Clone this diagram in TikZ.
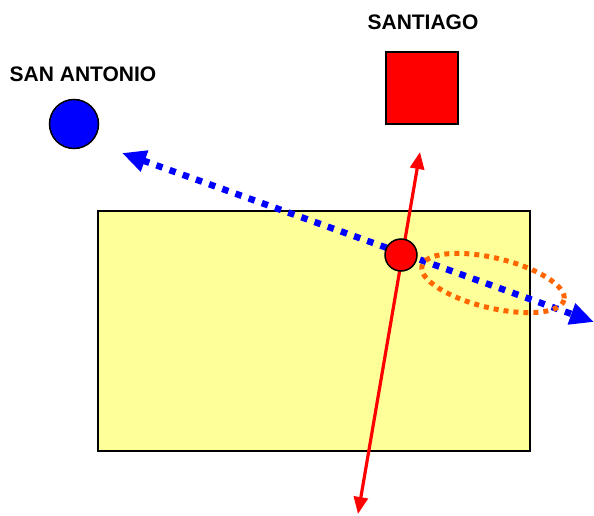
\documentclass[tikz,border=0pt]{standalone}
\usepackage{fontspec}
\setmainfont{Liberation Sans}
\usetikzlibrary{arrows.meta}
\definecolor{zoneyellow}{RGB}{255,255,153}
\definecolor{ringorange}{RGB}{255,102,0}
\begin{document}
\begin{tikzpicture}[x=1pt,y=-1pt,
  label/.style={font=\bfseries\fontsize{21}{25}\selectfont,inner sep=0pt},
  route/.style={blue,line width=6.5pt,dash pattern=on 6.5pt off 7.5pt,
    {Triangle[length=24pt,width=21pt]}-{Triangle[length=24pt,width=21pt]}},
  axis/.style={red,line width=3.2pt,
    {Triangle[length=17pt,width=14pt]}-{Triangle[length=17pt,width=14pt]}}]
\useasboundingbox (0,0) rectangle (594,516);
\node[label] (santiago) at (423,22) {SANTIAGO};
\node[draw,line width=1.5pt,fill=red,minimum size=72pt,inner sep=0pt] (stgo) at (422,88) {};
\node[label] (sanantonio) at (83,74) {SAN ANTONIO};
\node[draw,circle,line width=1.5pt,fill=blue,minimum size=49pt,inner sep=0pt] (port) at (74,124) {};
\draw[line width=1.5pt,fill=zoneyellow] (98,211) rectangle (530,451);
\coordinate (west) at (122,153);
\coordinate (east) at (594,322);
\coordinate (north) at (420,152);
\coordinate (south) at (358,514);
\draw[route] (west) -- (east);
\draw[axis] (north) -- (south);
\node[draw,circle,line width=1.5pt,fill=red,minimum size=32pt,inner sep=0pt] (site) at (401,255) {};
\draw[ringorange,line width=5pt,dash pattern=on 5pt off 5pt,
  rotate around={-13.4:(493,283)}] (493,283) ellipse [x radius=73, y radius=25];
\end{tikzpicture}
\end{document}
